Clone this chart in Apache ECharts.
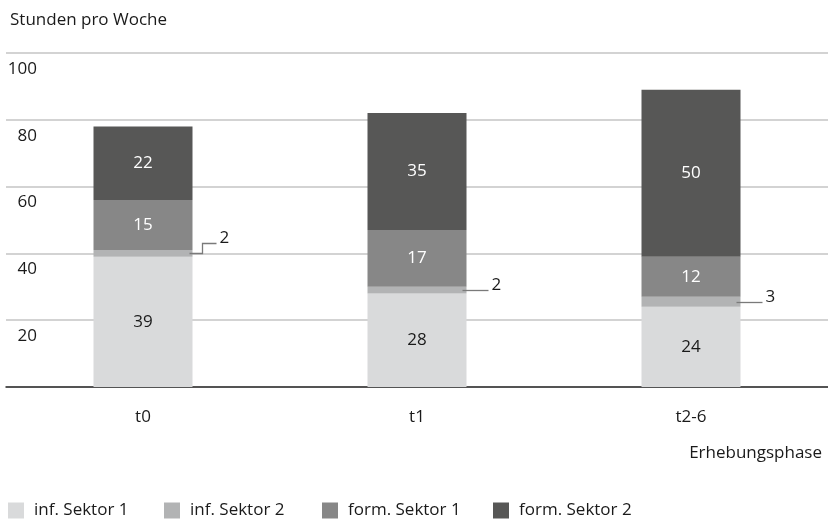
<!DOCTYPE html>
<html>
<head>
<meta charset="utf-8">
<script src="https://cdn.jsdelivr.net/npm/echarts@6/dist/echarts.min.js"></script>
<style>
  html, body { margin: 0; padding: 0; background: #fff; }
  #chart { width: 828px; height: 520px; }
</style>
</head>
<body>
<div id="chart"></div>
<script>
// Wochenstunden je Erhebungsphase, gestapelt nach Sektor
const phases = ['t0', 't1', 't2-6'];
const infSektor1 = [39, 28, 24];
const infSektor2 = [2, 2, 3];
const formSektor1 = [15, 17, 12];
const formSektor2 = [22, 35, 50];
const yTicks = [0, 20, 40, 60, 80, 100];
const seriesNames = ['inf. Sektor 1', 'inf. Sektor 2', 'form. Sektor 1', 'form. Sektor 2'];
const xAxisTitle = 'Erhebungsphase';
const yAxisTitle = 'Stunden pro Woche';

const FONT = 'Open Sans';
const FS = 17;
const TEXT = '#1a1a1a';
const colors = ['#d9dadb', '#b2b3b4', '#878787', '#575756'];
const BAR_W = 99;

const chart = echarts.init(document.getElementById('chart'), null, { renderer: 'canvas' });

function barSeries(name, data, color, labelColor) {
  return {
    name: name,
    type: 'bar',
    stack: 'total',
    barWidth: BAR_W,
    data: data,
    itemStyle: { color: color },
    label: {
      show: labelColor !== null,
      position: 'inside',
      color: labelColor || TEXT,
      fontFamily: FONT,
      fontSize: FS
    },
    emphasis: { disabled: true }
  };
}

// Leader lines and labels for the thin "inf. Sektor 2" segment
const leaderData = phases.map((p, i) => [i, infSektor1[i], infSektor2[i]]);
const leaderRise = [10, 0, 0];

// One legend block per series so each entry sits at its own column
const legendLeft = [3, 159, 317, 488];
const legends = seriesNames.map((n, i) => ({
  data: [n],
  left: legendLeft[i],
  top: 497,
  icon: 'rect',
  itemWidth: 16,
  itemHeight: 16,
  selectedMode: false,
  textStyle: { fontFamily: FONT, fontSize: FS, color: TEXT, padding: [0, 0, 0, 5] }
}));

const option = {
  animation: false,
  textStyle: { fontFamily: FONT },
  grid: { left: 6, right: 0, top: 53, bottom: 133, outerBoundsMode: 'none' },
  legend: legends,
  graphic: [
    {
      type: 'text',
      right: 6,
      top: 445,
      style: { text: xAxisTitle, fill: TEXT, font: FS + 'px ' + FONT }
    }
  ],
  xAxis: {
    type: 'category',
    data: phases,
    axisTick: { show: false },
    axisLine: { lineStyle: { color: '#2b2b2b', width: 1.5 } },
    axisLabel: { color: TEXT, fontSize: FS, fontFamily: FONT, margin: 21, lineHeight: 18 }
  },
  yAxis: {
    type: 'value',
    min: yTicks[0],
    max: yTicks[yTicks.length - 1],
    interval: yTicks[1] - yTicks[0],
    axisLine: { show: false },
    axisTick: { show: false },
    splitLine: { lineStyle: { color: '#c4c4c4', width: 1.5 } },
    axisLabel: {
      color: TEXT, fontSize: FS, fontFamily: FONT,
      align: 'right', margin: -31, verticalAlign: 'top', lineHeight: 18, padding: [7, 0, 0, 0],
      formatter: v => (v === 0 ? '' : String(v))
    },
    name: yAxisTitle,
    nameLocation: 'end',
    nameGap: 33,
    nameTextStyle: {
      color: TEXT, fontSize: FS, fontFamily: FONT,
      align: 'left', verticalAlign: 'middle', padding: [0, 0, 0, 4]
    }
  },
  series: [
    barSeries(seriesNames[0], infSektor1, colors[0], TEXT),
    barSeries(seriesNames[1], infSektor2, colors[1], null),
    barSeries(seriesNames[2], formSektor1, colors[2], '#ffffff'),
    barSeries(seriesNames[3], formSektor2, colors[3], '#ffffff'),
    {
      name: 'leader',
      type: 'custom',
      data: leaderData,
      z: 5,
      silent: true,
      renderItem: function (params, api) {
        const i = params.dataIndex;
        const base = api.value(1);
        const v = api.value(2);
        const p = api.coord([api.value(0), base + v / 2]);
        const edge = p[0] + BAR_W / 2;
        const y = Math.round(p[1]) + 0.5;
        const rise = leaderRise[i];
        let pts, endX, endY;
        if (rise > 0) {
          endX = edge + 24;
          endY = y - rise;
          pts = [[edge - 3, y], [edge + 10, y], [edge + 10, endY], [endX, endY]];
        } else {
          endX = edge + 22;
          endY = y;
          pts = [[edge - 4, y], [endX, y]];
        }
        return {
          type: 'group',
          children: [
            {
              type: 'polyline',
              shape: { points: pts },
              style: { stroke: '#7a7a7a', lineWidth: 1.3, fill: null }
            },
            {
              type: 'text',
              style: {
                x: endX + 3,
                y: endY - 5,
                text: String(v),
                fill: TEXT,
                font: FS + 'px ' + FONT,
                align: 'left',
                verticalAlign: 'middle'
              }
            }
          ]
        };
      }
    }
  ]
};

chart.setOption(option);
</script>
</body>
</html>
